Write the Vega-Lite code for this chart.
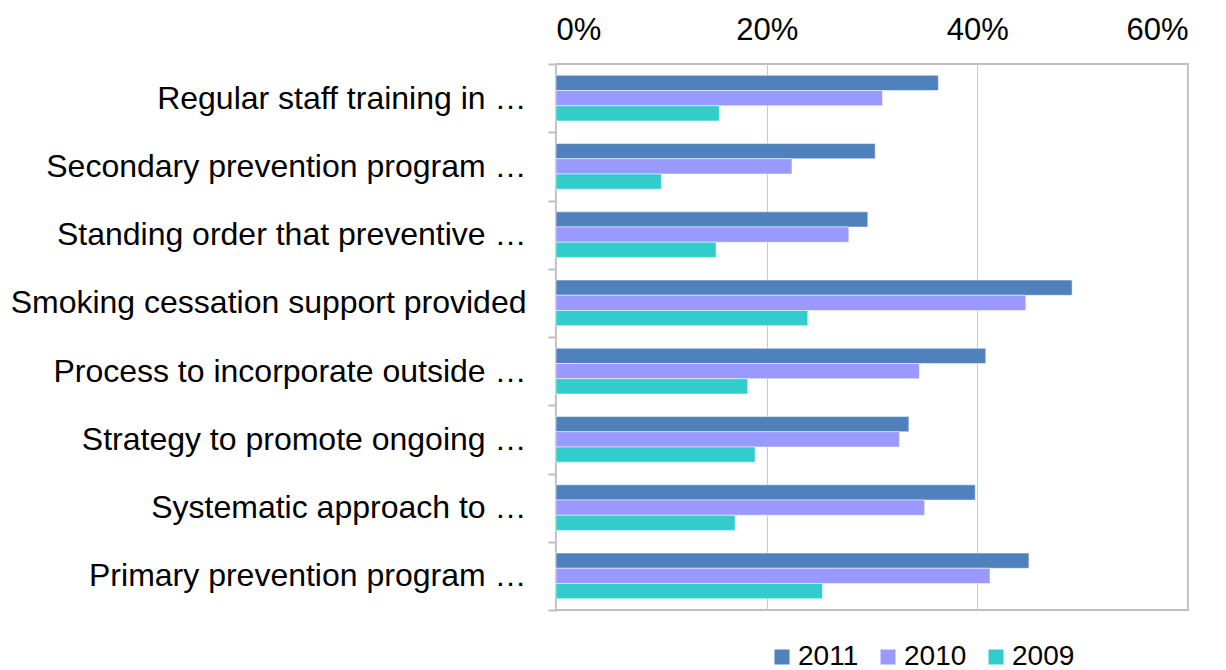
{
  "$schema": "https://vega.github.io/schema/vega-lite/v6.json",
  "width": 632,
  "height": 546,
  "padding": {"left": 10, "top": 14, "right": 30, "bottom": 10},
  "background": "white",
  "config": {
    "font": "Liberation Sans",
    "view": {"stroke": "#BFBFBF", "strokeWidth": 2}
  },
  "data": {
    "values": [
      {"item": "Regular staff training in …", "year": "2011", "value": 0.363},
      {"item": "Regular staff training in …", "year": "2010", "value": 0.310},
      {"item": "Regular staff training in …", "year": "2009", "value": 0.155},
      {"item": "Secondary prevention program …", "year": "2011", "value": 0.303},
      {"item": "Secondary prevention program …", "year": "2010", "value": 0.224},
      {"item": "Secondary prevention program …", "year": "2009", "value": 0.100},
      {"item": "Standing order that preventive …", "year": "2011", "value": 0.296},
      {"item": "Standing order that preventive …", "year": "2010", "value": 0.278},
      {"item": "Standing order that preventive …", "year": "2009", "value": 0.152},
      {"item": "Smoking cessation support provided", "year": "2011", "value": 0.490},
      {"item": "Smoking cessation support provided", "year": "2010", "value": 0.446},
      {"item": "Smoking cessation support provided", "year": "2009", "value": 0.239},
      {"item": "Process to incorporate outside …", "year": "2011", "value": 0.408},
      {"item": "Process to incorporate outside …", "year": "2010", "value": 0.345},
      {"item": "Process to incorporate outside …", "year": "2009", "value": 0.182},
      {"item": "Strategy to promote ongoing …", "year": "2011", "value": 0.335},
      {"item": "Strategy to promote ongoing …", "year": "2010", "value": 0.326},
      {"item": "Strategy to promote ongoing …", "year": "2009", "value": 0.189},
      {"item": "Systematic approach to …", "year": "2011", "value": 0.398},
      {"item": "Systematic approach to …", "year": "2010", "value": 0.350},
      {"item": "Systematic approach to …", "year": "2009", "value": 0.170},
      {"item": "Primary prevention program …", "year": "2011", "value": 0.449},
      {"item": "Primary prevention program …", "year": "2010", "value": 0.412},
      {"item": "Primary prevention program …", "year": "2009", "value": 0.253}
    ]
  },
  "mark": {"type": "bar", "stroke": "white", "strokeOpacity": 0.5, "strokeWidth": 1},
  "encoding": {
    "y": {
      "field": "item",
      "type": "nominal",
      "sort": null,
      "title": null,
      "scale": {"paddingInner": 0, "paddingOuter": 0},
      "axis": {
        "labelFontSize": 32,
        "labelColor": "#000000",
        "labelPadding": 22,
        "labelLimit": 700,
        "tickBand": "extent",
        "tickSize": 8,
        "tickColor": "#BFBFBF",
        "tickWidth": 2,
        "domain": false
      }
    },
    "yOffset": {
      "field": "year",
      "sort": ["2011", "2010", "2009"],
      "scale": {"paddingInner": 0, "paddingOuter": 0.745}
    },
    "x": {
      "field": "value",
      "type": "quantitative",
      "title": null,
      "scale": {"domain": [0, 0.6]},
      "axis": {
        "orient": "top",
        "format": ".0%",
        "values": [0, 0.2, 0.4, 0.6],
        "labelFontSize": 31,
        "labelColor": "#000000",
        "labelPadding": 18,
        "ticks": false,
        "domain": false,
        "gridColor": "#C8C8C8",
        "gridWidth": 1
      }
    },
    "color": {
      "field": "year",
      "type": "nominal",
      "scale": {"domain": ["2011", "2010", "2009"], "range": ["#4F81BD", "#9999FF", "#33CCCC"]},
      "legend": {
        "title": null,
        "orient": "none",
        "direction": "horizontal",
        "legendX": 212,
        "legendY": 579,
        "symbolType": "square",
        "symbolSize": 225,
        "symbolStrokeWidth": 0,
        "labelFontSize": 28,
        "labelColor": "#000000",
        "labelOffset": 2,
        "columnPadding": 15
      }
    }
  }
}
